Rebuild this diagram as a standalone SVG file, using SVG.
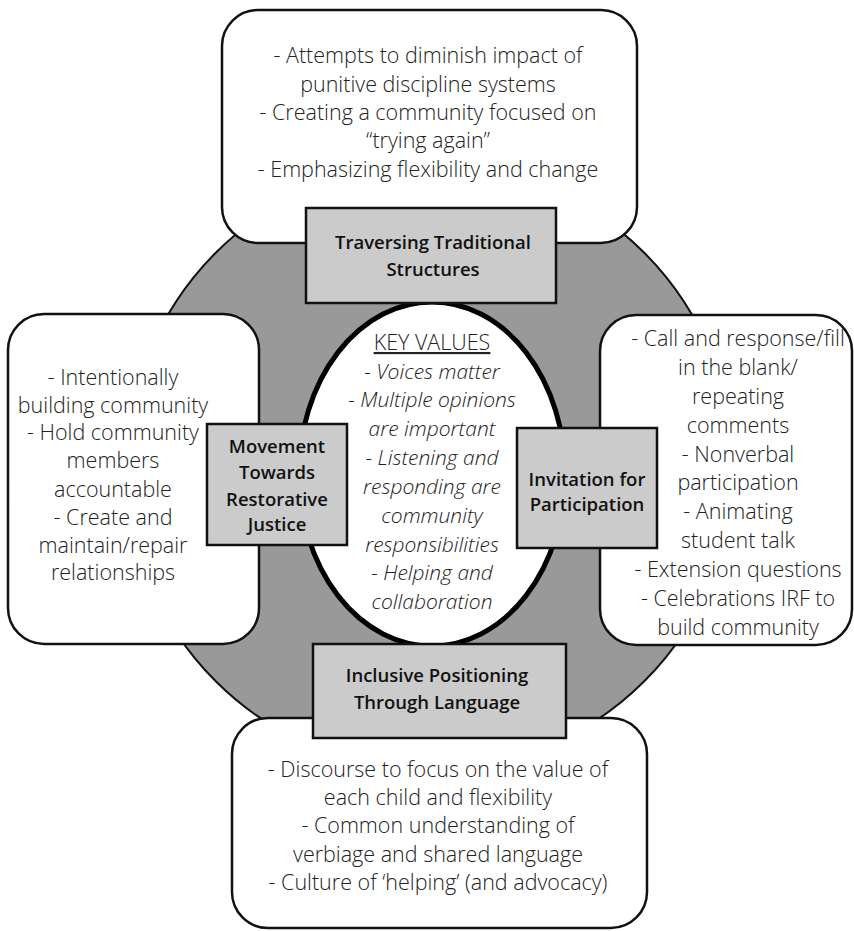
<svg xmlns="http://www.w3.org/2000/svg" width="854" height="931" viewBox="0 0 854 931">
<style>
.box{fill:#fff;stroke:#111;stroke-width:2.5}
.lab{fill:#cbcbcb;stroke:#111;stroke-width:2.5}
.t{font-family:"Open Sans","Noto Sans","Liberation Sans",sans-serif;font-weight:300;font-size:21.5px;fill:#222;text-anchor:middle}
.i{font-style:italic;font-size:21px}
.b{font-family:"Open Sans","Noto Sans","Liberation Sans",sans-serif;font-weight:600;font-size:18.5px;fill:#111;text-anchor:middle}
</style>
<rect width="854" height="931" fill="#fff"/>
<g id="ring">
<circle cx="430" cy="467" r="303" fill="#999" stroke="#111" stroke-width="2"/>
</g>
<g id="key-values">
<ellipse cx="432" cy="474" rx="133" ry="172" fill="#fff" stroke="#000" stroke-width="5"/>
<text class="t" x="432" y="350" style="text-decoration:underline">KEY VALUES</text>
<text class="t i" x="432" y="379">- Voices matter</text>
<text class="t i" x="432" y="407">- Multiple opinions</text>
<text class="t i" x="432" y="436">are important</text>
<text class="t i" x="432" y="465">- Listening and</text>
<text class="t i" x="432" y="494">responding are</text>
<text class="t i" x="432" y="523">community</text>
<text class="t i" x="432" y="552">responsibilities</text>
<text class="t i" x="432" y="580">- Helping and</text>
<text class="t i" x="432" y="609">collaboration</text>
</g>
<g id="top">
<rect class="box" x="222" y="10" width="415" height="233" rx="36"/>
<text class="t" x="428" y="63">- Attempts to diminish impact of</text>
<text class="t" x="428" y="92">punitive discipline systems</text>
<text class="t" x="428" y="120">- Creating a community focused on</text>
<text class="t" x="428" y="148">“trying again”</text>
<text class="t" x="428" y="177">- Emphasizing flexibility and change</text>
</g>
<g id="left">
<rect class="box" x="8" y="314" width="251" height="330" rx="36"/>
<text class="t" x="113" y="385">- Intentionally</text>
<text class="t" x="113" y="413">building community</text>
<text class="t" x="113" y="440">- Hold community</text>
<text class="t" x="113" y="468">members</text>
<text class="t" x="113" y="497">accountable</text>
<text class="t" x="113" y="525">- Create and</text>
<text class="t" x="113" y="553">maintain/repair</text>
<text class="t" x="113" y="580">relationships</text>
</g>
<g id="right">
<rect class="box" x="600" y="315" width="252" height="330" rx="36"/>
<text class="t" x="738" y="346">- Call and response/fill</text>
<text class="t" x="738" y="375">in the blank/</text>
<text class="t" x="738" y="404">repeating</text>
<text class="t" x="738" y="433">comments</text>
<text class="t" x="738" y="462">- Nonverbal</text>
<text class="t" x="738" y="490">participation</text>
<text class="t" x="738" y="519">- Animating</text>
<text class="t" x="738" y="548">student talk</text>
<text class="t" x="738" y="577">- Extension questions</text>
<text class="t" x="738" y="606">- Celebrations IRF to</text>
<text class="t" x="738" y="635">build community</text>
</g>
<g id="bottom">
<rect class="box" x="232" y="718" width="415" height="210" rx="36"/>
<text class="t" x="438" y="777">- Discourse to focus on the value of</text>
<text class="t" x="438" y="805">each child and flexibility</text>
<text class="t" x="438" y="833">- Common understanding of</text>
<text class="t" x="438" y="862">verbiage and shared language</text>
<text class="t" x="438" y="890">- Culture of ‘helping’ (and advocacy)</text>
</g>
<g id="label-top">
<rect class="lab" x="306" y="208" width="250" height="95"/>
<text class="b" x="433" y="249">Traversing Traditional</text>
<text class="b" x="433" y="276">Structures</text>
</g>
<g id="label-left">
<rect class="lab" x="207" y="424" width="140" height="121"/>
<text class="b" x="277" y="453">Movement</text>
<text class="b" x="277" y="479">Towards</text>
<text class="b" x="277" y="506">Restorative</text>
<text class="b" x="277" y="531">Justice</text>
</g>
<g id="label-right">
<rect class="lab" x="517" y="428" width="140" height="120"/>
<text class="b" x="587" y="486">Invitation for</text>
<text class="b" x="587" y="511">Participation</text>
</g>
<g id="label-bottom">
<rect class="lab" x="313" y="644" width="253" height="94"/>
<text class="b" x="437" y="682">Inclusive Positioning</text>
<text class="b" x="437" y="709">Through Language</text>
</g>
<g id="connectors"/>
</svg>
